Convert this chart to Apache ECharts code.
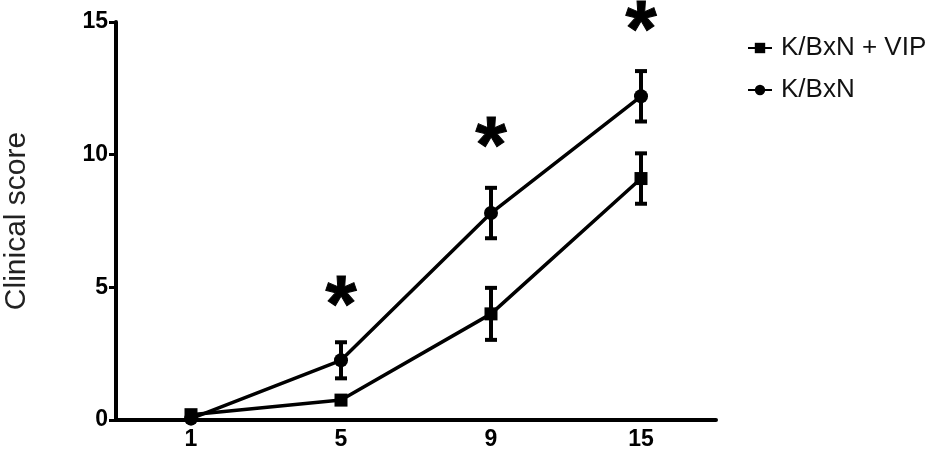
<!DOCTYPE html>
<html>
<head>
<meta charset="utf-8">
<script src="https://cdn.jsdelivr.net/npm/echarts@6/dist/echarts.min.js"></script>
<style>
html,body{margin:0;padding:0;background:#fff;}
#chart{width:945px;height:452px;}
</style>
</head>
<body>
<div id="chart"></div>
<script>
var days = ['1', '5', '9', '15'];
var vipMean = [0.2, 0.75, 4.0, 9.1];
var vipErr = [0, 0, 0.98, 0.95];
var kbxnMean = [0.05, 2.25, 7.8, 12.2];
var kbxnErr = [0, 0.68, 0.95, 0.95];
var starPos = [[1, 4.8], [2, 10.8], [3, 15.15]];
var yTicks = {min: 0, max: 15, interval: 5};

function errData(mean, err) {
  var out = [];
  for (var i = 0; i < mean.length; i++) {
    if (err[i] > 0) out.push([i, mean[i] - err[i], mean[i] + err[i]]);
  }
  return out;
}

function errRender(params, api) {
  var x = api.value(0);
  var lo = api.coord([x, api.value(1)]);
  var hi = api.coord([x, api.value(2)]);
  var cap = 6;
  var style = {stroke: '#000', lineWidth: 4};
  return {
    type: 'group',
    children: [
      {type: 'line', shape: {x1: lo[0], y1: lo[1], x2: hi[0], y2: hi[1]}, style: style},
      {type: 'line', shape: {x1: lo[0] - cap, y1: lo[1], x2: lo[0] + cap, y2: lo[1]}, style: style},
      {type: 'line', shape: {x1: hi[0] - cap, y1: hi[1], x2: hi[0] + cap, y2: hi[1]}, style: style}
    ]
  };
}

var FONT = 'Liberation Sans, Arial, sans-serif';
var chart = echarts.init(document.getElementById('chart'));
chart.setOption({
  animation: false,
  backgroundColor: '#fff',
  grid: {left: 116, right: 229, top: 22, bottom: 32, containLabel: false, outerBoundsMode: 'none'},
  legend: {
    orient: 'vertical',
    left: 742,
    top: 30,
    itemWidth: 24,
    itemHeight: 13,
    itemGap: 16,
    data: ['K/BxN + VIP', 'K/BxN'],
    textStyle: {fontFamily: FONT, fontSize: 26, color: '#111', padding: [0, 0, 0, 4]}
  },
  xAxis: {
    type: 'category',
    data: days,
    boundaryGap: true,
    axisLine: {lineStyle: {color: '#000', width: 4}},
    axisTick: {alignWithLabel: true, length: 7, lineStyle: {color: '#000', width: 3}},
    axisLabel: {fontFamily: FONT, fontWeight: 'bold', fontSize: 23, color: '#000', margin: 8}
  },
  yAxis: {
    type: 'value',
    min: yTicks.min,
    max: yTicks.max,
    interval: yTicks.interval,
    name: 'Clinical score',
    nameLocation: 'middle',
    nameRotate: 90,
    nameGap: 84,
    nameTextStyle: {fontFamily: FONT, fontSize: 30, color: '#222'},
    axisLine: {show: true, lineStyle: {color: '#000', width: 4}},
    axisTick: {show: true, length: 7, lineStyle: {color: '#000', width: 3}},
    splitLine: {show: false},
    axisLabel: {fontFamily: FONT, fontWeight: 'bold', fontSize: 23, color: '#000', margin: 8}
  },
  series: [
    {
      name: 'K/BxN + VIP',
      type: 'line',
      data: vipMean,
      symbol: 'rect',
      symbolSize: 13,
      lineStyle: {color: '#000', width: 3.5},
      itemStyle: {color: '#000'},
      z: 3
    },
    {
      name: 'K/BxN',
      type: 'line',
      data: kbxnMean,
      symbol: 'circle',
      symbolSize: 14,
      lineStyle: {color: '#000', width: 3.5},
      itemStyle: {color: '#000'},
      z: 3
    },
    {
      type: 'custom',
      renderItem: errRender,
      data: errData(vipMean, vipErr),
      z: 4
    },
    {
      type: 'custom',
      renderItem: errRender,
      data: errData(kbxnMean, kbxnErr),
      z: 4
    },
    {
      type: 'scatter',
      data: starPos,
      symbolSize: 0,
      itemStyle: {color: '#000', opacity: 1},
      clip: false,
      silent: true,
      label: {
        show: true,
        position: 'inside',
        formatter: '*',
        fontFamily: FONT,
        fontWeight: 'bold',
        fontSize: 80,
        color: '#000',
        opacity: 1,
        textBorderColor: '#000',
        textBorderWidth: 1,
        offset: [0, 16]
      }
    }
  ]
});
</script>
</body>
</html>
